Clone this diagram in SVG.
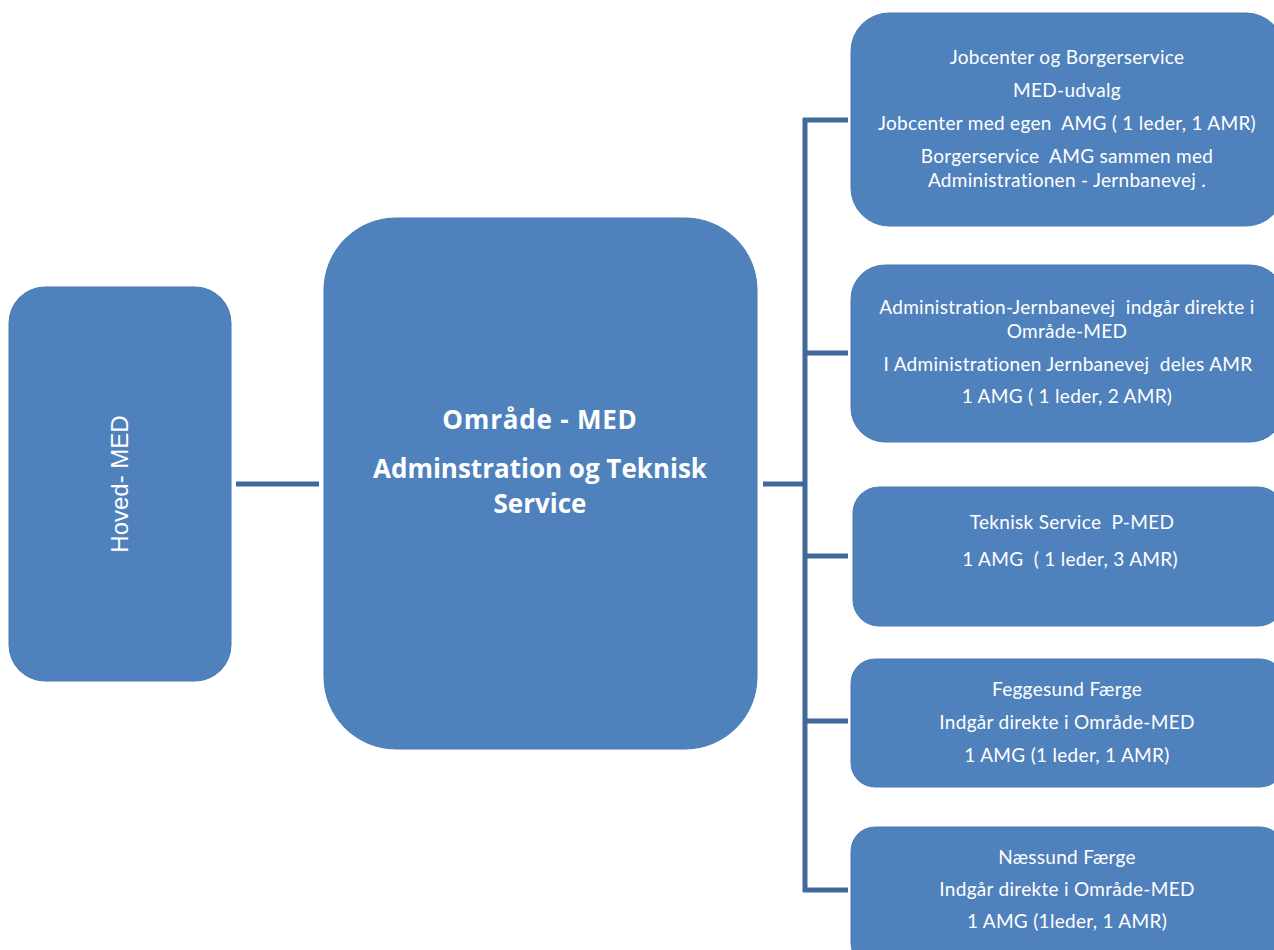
<svg xmlns="http://www.w3.org/2000/svg" width="1274" height="950" viewBox="0 0 1274 950">
  <style>
    .box { fill: #4F81BD; stroke: #4A7BB5; stroke-width: 1; }
    .link { stroke: #41699C; stroke-width: 5; fill: none; }
    .t { font-family: Lato, "Open Sans", "Liberation Sans", sans-serif; font-size: 19px; letter-spacing: 0.3px; fill: #FFFFFF; text-anchor: middle; }
    .tb { font-family: "Open Sans", Lato, "Liberation Sans", sans-serif; font-size: 26px; font-weight: bold; fill: #FFFFFF; text-anchor: middle; }
    .tv { font-family: "Liberation Sans", Arial, sans-serif; font-size: 24px; fill: #FFFFFF; text-anchor: middle; }
  </style>
  <rect width="1274" height="950" fill="#FFFFFF"/>

  <g id="connectors">
    <line class="link" x1="236" y1="484" x2="319" y2="484"/>
    <line class="link" x1="763" y1="484" x2="805" y2="484"/>
    <line class="link" x1="805" y1="118" x2="805" y2="892"/>
    <line class="link" x1="803" y1="120" x2="848" y2="120"/>
    <line class="link" x1="805" y1="353" x2="848" y2="353"/>
    <line class="link" x1="805" y1="556" x2="848" y2="556"/>
    <line class="link" x1="805" y1="721" x2="848" y2="721"/>
    <line class="link" x1="803" y1="890" x2="848" y2="890"/>
  </g>

  <g id="hoved-med">
    <rect class="box" x="9" y="287" width="222" height="394" rx="36"/>
    <text class="tv" transform="translate(128,484) rotate(-90)">Hoved- MED</text>
  </g>

  <g id="omraade-med">
    <rect class="box" x="324" y="218" width="433" height="531" rx="72"/>
    <text class="tb" x="540" y="429" style="letter-spacing:0.8px">Område - MED</text>
    <text class="tb" x="540" y="478">Adminstration og Teknisk</text>
    <text class="tb" x="540" y="513">Service</text>
  </g>

  <g id="jobcenter">
    <rect class="box" x="851" y="13" width="433" height="213" rx="38"/>
    <text class="t" x="1067" y="64">Jobcenter og Borgerservice</text>
    <text class="t" x="1067" y="97">MED-udvalg</text>
    <text class="t" x="1067" y="130" xml:space="preserve">Jobcenter med egen  AMG ( 1 leder, 1 AMR)</text>
    <text class="t" x="1067" y="163" xml:space="preserve">Borgerservice  AMG sammen med</text>
    <text class="t" x="1067" y="187">Administrationen - Jernbanevej .</text>
  </g>

  <g id="administration">
    <rect class="box" x="851" y="265" width="433" height="177" rx="34"/>
    <text class="t" x="1067" y="314" xml:space="preserve">Administration-Jernbanevej  indgår direkte i</text>
    <text class="t" x="1067" y="338">Område-MED</text>
    <text class="t" x="1068" y="371" xml:space="preserve">I Administrationen Jernbanevej  deles AMR</text>
    <text class="t" x="1067" y="403">1 AMG ( 1 leder, 2 AMR)</text>
  </g>

  <g id="teknisk-service">
    <rect class="box" x="853" y="487" width="431" height="139" rx="26"/>
    <text class="t" x="1072" y="529" xml:space="preserve">Teknisk Service  P-MED</text>
    <text class="t" x="1070" y="566" xml:space="preserve">1 AMG  ( 1 leder, 3 AMR)</text>
  </g>

  <g id="feggesund">
    <rect class="box" x="851" y="659" width="433" height="128" rx="24"/>
    <text class="t" x="1067" y="696">Feggesund Færge</text>
    <text class="t" x="1067" y="729">Indgår direkte i Område-MED</text>
    <text class="t" x="1067" y="762">1 AMG (1 leder, 1 AMR)</text>
  </g>

  <g id="naessund">
    <rect class="box" x="851" y="827" width="433" height="140" rx="24"/>
    <text class="t" x="1067" y="864">Næssund Færge</text>
    <text class="t" x="1067" y="896">Indgår direkte i Område-MED</text>
    <text class="t" x="1067" y="928">1 AMG (1leder, 1 AMR)</text>
  </g>
</svg>
